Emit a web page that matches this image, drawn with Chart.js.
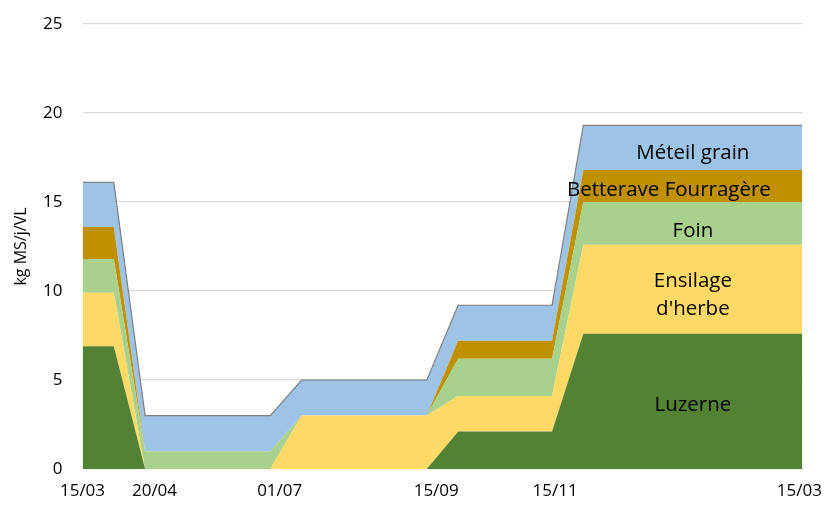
<!DOCTYPE html>
<html>
<head>
<meta charset="utf-8">
<script src="https://cdn.jsdelivr.net/npm/chart.js@4/dist/chart.umd.min.js"></script>
<style>
  body { margin: 0; background: #fff; }
  #wrap { width: 834px; height: 506px; }
</style>
</head>
<body>
<div id="wrap"><canvas id="chart" width="834" height="506"></canvas></div>
<script>
// 24 points along the season (15/03 -> 15/03)
const luzerne   = [6.9, 6.9, 0, 0, 0, 0, 0, 0, 0, 0, 0, 0, 2.1, 2.1, 2.1, 2.1, 7.6, 7.6, 7.6, 7.6, 7.6, 7.6, 7.6, 7.6];
const ensilage  = [3.0, 3.0, 0, 0, 0, 0, 0, 3.0, 3.0, 3.0, 3.0, 3.0, 2.0, 2.0, 2.0, 2.0, 5.0, 5.0, 5.0, 5.0, 5.0, 5.0, 5.0, 5.0];
const foin      = [1.9, 1.9, 1.0, 1.0, 1.0, 1.0, 1.0, 0, 0, 0, 0, 0, 2.1, 2.1, 2.1, 2.1, 2.4, 2.4, 2.4, 2.4, 2.4, 2.4, 2.4, 2.4];
const betterave = [1.8, 1.8, 0, 0, 0, 0, 0, 0, 0, 0, 0, 0, 1.0, 1.0, 1.0, 1.0, 1.8, 1.8, 1.8, 1.8, 1.8, 1.8, 1.8, 1.8];
const meteil    = [2.5, 2.5, 2.0, 2.0, 2.0, 2.0, 2.0, 2.0, 2.0, 2.0, 2.0, 2.0, 2.0, 2.0, 2.0, 2.0, 2.5, 2.5, 2.5, 2.5, 2.5, 2.5, 2.5, 2.5];

const seriesNames = ["Luzerne", "Ensilage d'herbe", "Foin", "Betterave Fourragère", "Méteil grain"];
const xLabels = ["15/03", "20/04", "01/07", "15/09", "15/11", "15/03"];
const xLabelAt = [0, 2.3, 6.3, 11.3, 15.1, 22.9];
const yTicks = [0, 5, 10, 15, 20, 25];

const colors = ["#548235", "#FFD966", "#A9D18E", "#BF9000", "#9DC3E6"];
const FONT = "'Open Sans', sans-serif";

function toPoints(arr) {
  return arr.map((v, i) => ({ x: i, y: v }));
}

const allSeries = [luzerne, ensilage, foin, betterave, meteil];

const datasets = allSeries.map((arr, k) => ({
  label: seriesNames[k],
  data: toPoints(arr),
  backgroundColor: colors[k],
  borderColor: k === 4 ? "#7f7f7f" : colors[k],
  borderWidth: k === 4 ? 1.2 : 0,
  fill: k === 0 ? "origin" : "-1",
  pointRadius: 0,
  tension: 0,
}));

// band names written inside the areas, at the right part of the chart
const labelNudge = [[0, 0], [0, 2], [0, 4], [-24, 0], [0, 1]];
const bandLabels = {
  id: "bandLabels",
  afterDatasetsDraw(chart) {
    const { ctx, scales } = chart;
    const idx = 19.5;
    const i = Math.floor(idx);
    let base = 0;
    ctx.save();
    ctx.fillStyle = "#000";
    ctx.font = "20.5px " + FONT;
    ctx.textAlign = "center";
    ctx.textBaseline = "middle";
    allSeries.forEach((arr, k) => {
      const mid = base + arr[i] / 2;
      base += arr[i];
      const px = scales.x.getPixelForValue(idx) + labelNudge[k][0];
      const py = scales.y.getPixelForValue(mid) + 4 + labelNudge[k][1];
      if (k === 1) {
        ctx.fillText("Ensilage", px, py - 14);
        ctx.fillText("d'herbe", px, py + 14);
      } else {
        ctx.fillText(seriesNames[k], px, py);
      }
    });
    ctx.restore();
  },
};

new Chart(document.getElementById("chart"), {
  type: "line",
  data: { datasets },
  plugins: [bandLabels],
  options: {
    responsive: false,
    animation: false,
    layout: { padding: { left: 0, right: 29, top: 24, bottom: 0 } },
    plugins: { legend: { display: false }, tooltip: { enabled: false } },
    scales: {
      x: {
        type: "linear",
        min: 0,
        max: 23,
        grid: { display: false, drawTicks: false },
        border: { display: false },
        afterBuildTicks(scale) {
          scale.ticks = xLabelAt.map((v) => ({ value: v }));
        },
        afterFit(scale) {
          scale.height = 37;
        },
        ticks: {
          autoSkip: false,
          maxRotation: 0,
          padding: 12,
          color: "#000",
          font: { family: FONT, size: 17 },
          callback: (v, i) => xLabels[i],
        },
      },
      y: {
        stacked: true,
        min: 0,
        max: 25,
        afterFit(scale) {
          scale.width = 82.5;
          scale.paddingTop = 10;
          scale.paddingBottom = 10;
        },
        afterBuildTicks(scale) {
          scale.ticks = yTicks.map((v) => ({ value: v }));
        },
        grid: { color: "#d9d9d9", lineWidth: 1.2, drawTicks: false },
        border: { display: false },
        ticks: {
          padding: 20,
          color: "#000",
          font: { family: FONT, size: 17 },
        },
        title: {
          display: true,
          text: "kg MS/j/VL",
          color: "#000",
          font: { family: FONT, size: 16 },
          padding: { top: 12, bottom: 0 },
        },
      },
    },
  },
});
</script>
</body>
</html>
